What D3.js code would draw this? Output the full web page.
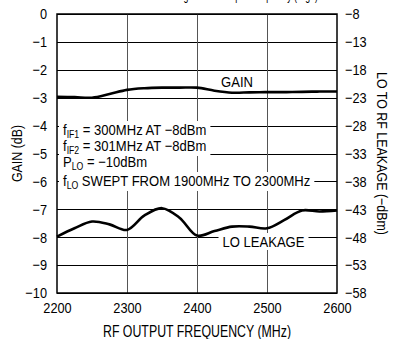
<!DOCTYPE html>
<html>
<head>
<meta charset="utf-8">
<style>
  body { margin: 0; background: #fff; }
  svg { display: block; font-family: "Liberation Sans", Arial, sans-serif; }
  .grid line { stroke: #000; stroke-width: 1; shape-rendering: crispEdges; }
  .grid .v { stroke: #555; }
  .tick text { font-size: 15px; fill: #000; }
  .curve { fill: none; stroke: #000; stroke-width: 2.6px; }
  .note { font-size: 15px; fill: #000; }
</style>
</head>
<body>
<svg width="393" height="339"></svg>
<script src="https://cdn.jsdelivr.net/npm/d3@7"></script>
<script>

// RF output frequency (MHz)
var freq = [2200, 2225, 2250, 2275, 2300, 2325, 2350, 2375, 2400, 2425, 2450, 2475, 2500, 2525, 2550, 2575, 2600];
// conversion gain (dB), left axis
var gain = [-2.97, -2.98, -3.00, -2.87, -2.72, -2.66, -2.64, -2.64, -2.64, -2.75, -2.82, -2.81, -2.80, -2.80, -2.79, -2.78, -2.78];
// LO to RF leakage (dBm), right axis
var leak = [-47.9, -46.4, -45.2, -45.7, -46.7, -44.1, -42.8, -44.5, -47.7, -46.9, -46.1, -46.1, -46.4, -44.9, -43.2, -43.4, -43.2];

var xTicks = [2200, 2300, 2400, 2500, 2600];
var gainTicks = [0, -1, -2, -3, -4, -5, -6, -7, -8, -9, -10];
var leakTicks = [-8, -13, -18, -23, -28, -33, -38, -43, -48, -53, -58];

var svg = d3.select("svg"),
    margin = {top: 14, right: 56, bottom: 46, left: 57},
    width = +svg.attr("width") - margin.left - margin.right,
    height = +svg.attr("height") - margin.top - margin.bottom;

var x = d3.scaleLinear().domain([2200, 2600]).range([0, width]),
    y = d3.scaleLinear().domain([-10, 0]).range([height, 0]),
    y2 = d3.scaleLinear().domain([-58, -8]).range([height, 0]);

// squeeze text horizontally, the original uses a condensed face
function condense(sel, k) {
  sel.each(function() {
    var l = this.getComputedTextLength();
    this.setAttribute("textLength", l * k);
    this.setAttribute("lengthAdjust", "spacingAndGlyphs");
  });
}

// title, cut off at the top edge in the original
svg.append("text")
    .attr("class", "note")
    .attr("x", 189)
    .attr("y", 0)
    .attr("text-anchor", "middle")
    .attr("textLength", 258)
    .attr("lengthAdjust", "spacingAndGlyphs")
    .text("Conversion Gain and LO Leakage vs RF Output Frequency (High)");

var g = svg.append("g")
    .attr("transform", "translate(" + margin.left + "," + margin.top + ")");

var grid = g.append("g").attr("class", "grid");

grid.selectAll(".h")
    .data(gainTicks)
  .enter().append("line")
    .attr("class", "h")
    .attr("x1", 0).attr("x2", width)
    .attr("y1", function(d) { return Math.round(y(d)) + 0.5; })
    .attr("y2", function(d) { return Math.round(y(d)) + 0.5; });

grid.selectAll(".v")
    .data(xTicks.slice(1, -1))
  .enter().append("line")
    .attr("class", "v")
    .attr("y1", 0).attr("y2", height)
    .attr("x1", function(d) { return Math.round(x(d)) + 0.5; })
    .attr("x2", function(d) { return Math.round(x(d)) + 0.5; });

// frame
g.append("rect")
    .attr("width", width)
    .attr("height", height)
    .attr("fill", "none")
    .attr("stroke", "#000")
    .attr("stroke-width", 1.5);

// axes (labels only, no tick marks)
g.append("g")
    .attr("transform", "translate(0," + height + ")")
    .call(d3.axisBottom(x).tickValues(xTicks).tickSize(0).tickPadding(9).tickFormat(d3.format("d")))
    .call(function(a) { a.select(".domain").remove(); });

g.append("g")
    .call(d3.axisLeft(y).tickValues(gainTicks).tickSize(0).tickPadding(10).tickFormat(d3.format("d")))
    .call(function(a) { a.select(".domain").remove(); });

g.append("g")
    .attr("transform", "translate(" + width + ",0)")
    .call(d3.axisRight(y2).tickValues(leakTicks).tickSize(0).tickPadding(8).tickFormat(d3.format("d")))
    .call(function(a) { a.select(".domain").remove(); });

g.selectAll(".tick text").attr("font-family", null).attr("font-size", null);
condense(g.selectAll(".tick text"), 0.85);

// curves
var gainLine = d3.line()
    .curve(d3.curveCatmullRom)
    .x(function(d, i) { return x(freq[i]); })
    .y(function(d) { return y(d); });

var leakLine = d3.line()
    .curve(d3.curveCatmullRom)
    .x(function(d, i) { return x(freq[i]); })
    .y(function(d) { return y2(d); });

g.append("path").datum(gain).attr("class", "curve").attr("d", gainLine);
g.append("path").datum(leak).attr("class", "curve").attr("d", leakLine);

// labels: white boxes go in their own layer under all the texts
var bgLayer = g.append("g"),
    textLayer = g.append("g");

function label(px, py, parts, anchor) {
  var t = textLayer.append("text")
      .attr("class", "note")
      .attr("x", px)
      .attr("y", py)
      .attr("text-anchor", anchor || "start");
  parts.forEach(function(p) {
    var s = t.append("tspan").text(p[0]);
    if (p[1]) s.attr("font-size", "10px").attr("dy", 3);
    else if (p[2]) s.attr("dy", -3);
  });
  condense(t, 0.87);
  var b = t.node().getBBox();
  bgLayer.append("rect")
      .attr("x", b.x - 4).attr("y", b.y)
      .attr("width", b.width + 8).attr("height", b.height)
      .attr("fill", "#fff");
  return t;
}

label(6, 121, [["f"], ["IF1", true], [" = 300MHz AT \u22128dBm", false, true]]);
label(6, 137, [["f"], ["IF2", true], [" = 301MHz AT \u22128dBm", false, true]]);
label(6, 153, [["P"], ["LO", true], [" = \u221210dBm", false, true]]);
label(6, 172, [["f"], ["LO", true], [" SWEPT FROM 1900MHz TO 2300MHz", false, true]]);

var gl = textLayer.append("text").attr("class", "note")
    .attr("x", 180).attr("y", 72.5)
    .attr("text-anchor", "middle")
    .text("GAIN");
condense(gl, 0.87);

label(206.5, 233, [["LO LEAKAGE"]], "middle");

// axis titles
svg.append("text").attr("class", "note")
    .attr("transform", "translate(" + (margin.left + width / 2) + ",337)")
    .attr("text-anchor", "middle")
    .style("font-size", "16px")
    .attr("textLength", 188)
    .attr("lengthAdjust", "spacingAndGlyphs")
    .text("RF OUTPUT FREQUENCY (MHz)");

svg.append("text").attr("class", "note")
    .attr("transform", "translate(22," + (margin.top + height / 2) + ") rotate(-90)")
    .attr("text-anchor", "middle")
    .attr("textLength", 57)
    .attr("lengthAdjust", "spacingAndGlyphs")
    .text("GAIN (dB)");

svg.append("text").attr("class", "note")
    .attr("transform", "translate(377," + (margin.top + height / 2) + ") rotate(90)")
    .attr("text-anchor", "middle")
    .attr("textLength", 163)
    .attr("lengthAdjust", "spacingAndGlyphs")
    .text("LO TO RF LEAKAGE (\u2212dBm)");

</script>
</body>
</html>
